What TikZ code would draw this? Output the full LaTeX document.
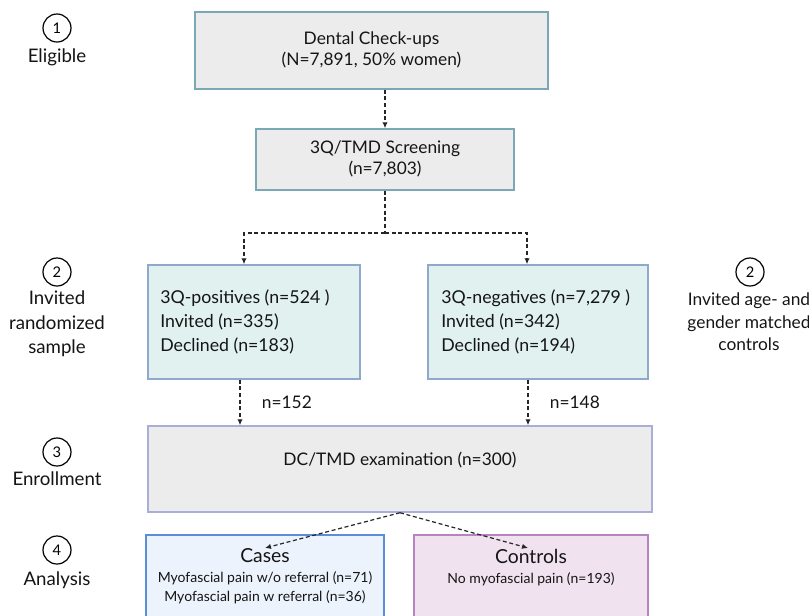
\documentclass[tikz,border=0pt]{standalone}
\usepackage{fontspec}
\setmainfont{Lato}
\usetikzlibrary{arrows.meta}
\definecolor{grayfill}{HTML}{ECECEC}
\definecolor{tealedge}{HTML}{7BA8B6}
\definecolor{cyanfill}{HTML}{E0F1EF}
\definecolor{cyanedge}{HTML}{8FA8CE}
\definecolor{dcedge}{HTML}{A9AED8}
\definecolor{casefill}{HTML}{EDF3FC}
\definecolor{caseedge}{HTML}{5B8ED8}
\definecolor{ctrlfill}{HTML}{F1E2F0}
\definecolor{ctrledge}{HTML}{B784C0}
\definecolor{txt}{HTML}{151515}
\tikzset{
  boxbase/.style={rectangle, line width=1.1pt, inner sep=0pt},
  graybox/.style={boxbase, draw=tealedge, fill=grayfill},
  cyanbox/.style={boxbase, draw=cyanedge, fill=cyanfill},
  dcbox/.style={boxbase, draw=dcedge, fill=grayfill},
  casebox/.style={boxbase, draw=caseedge, fill=casefill},
  ctrlbox/.style={boxbase, draw=ctrledge, fill=ctrlfill},
  maintext/.style={font=\fontsize{13}{16}\selectfont, text=txt, align=center, inner sep=0pt},
  listtext/.style={font=\fontsize{13.3}{18}\selectfont, text=txt, align=left, inner sep=0pt, anchor=west},
  headtext/.style={font=\fontsize{14.5}{16}\selectfont, text=txt, align=center, inner sep=0pt},
  smalltext/.style={font=\fontsize{10.5}{14.5}\selectfont, text=txt, align=center, inner sep=0pt},
  sidetext/.style={font=\fontsize{14}{18.5}\selectfont, text=txt, align=center, inner sep=0pt},
  sidetextr/.style={font=\fontsize{13}{17}\selectfont, text=txt, align=center, inner sep=0pt},
  stepnum/.style={circle, draw=black, line width=0.9pt, minimum size=21pt, inner sep=0pt, font=\fontsize{11}{12}\selectfont},
  dline/.style={line width=0.9pt, dash pattern=on 3pt off 2pt, draw=black!85},
  darr/.style={dline, -{Latex[length=4.5pt,width=4pt]}},
}
\begin{document}
\begin{tikzpicture}[x=0.75pt,y=-0.75pt]
\clip (0,0) rectangle (809,615);
\fill[white] (0,0) rectangle (809,615);

% boxes
\node[graybox, minimum width=264.75pt, minimum height=57.75pt] (b1) at (371.5,50.5) {};
\node[maintext] (b1t) at (371.5,50) {Dental Check-ups\\(N=7,891, 50\% women)};
\node[graybox, minimum width=193.5pt, minimum height=45.75pt] (b2) at (385,159.5) {};
\node[maintext] (b2t) at (385,159) {3Q/TMD Screening\\(n=7,803)};

\node[cyanbox, minimum width=159pt, minimum height=85.5pt] (lb) at (254,322) {};
\node[listtext] (lbt) at (160,322) {3Q-positives (n=524 )\\Invited (n=335)\\Declined (n=183)};
\node[cyanbox, minimum width=165pt, minimum height=85.5pt] (rb) at (538,322) {};
\node[listtext] (rbt) at (441,322) {3Q-negatives (n=7,279 )\\Invited (n=342)\\Declined (n=194)};

\node[dcbox, minimum width=378pt, minimum height=64.5pt] (dc) at (400,469) {};
\node[maintext] (dct) at (400,460) {DC/TMD examination (n=300)};

\node[casebox, minimum width=178.5pt, minimum height=75pt] (cs) at (265,585) {};
\node[headtext] (cst1) at (265,556) {Cases};
\node[smalltext] (cst2) at (265,588) {Myofascial pain w/o referral (n=71)\\Myofascial pain w referral (n=36)};
\node[ctrlbox, minimum width=175.5pt, minimum height=75pt] (ct) at (531,585) {};
\node[headtext] (ctt1) at (531,556) {Controls};
\node[smalltext] (ctt2) at (531,579) {No myofascial pain (n=193)};

% side labels
\node[stepnum] (s1) at (57,28) {1};
\node[sidetext] (s1t) at (57,57) {Eligible};
\node[stepnum] (s2) at (57,272) {2};
\node[sidetext] (s2t) at (57,324) {Invited\\randomized\\sample};
\node[stepnum] (s2r) at (750,272) {2};
\node[sidetextr] (s2rt) at (749,322) {Invited age- and\\gender matched\\controls};
\node[stepnum] (s3) at (57,452) {3};
\node[sidetext] (s3t) at (57,479) {Enrollment};
\node[stepnum] (s4) at (57,550) {4};
\node[sidetext] (s4t) at (57,580) {Analysis};

% connectors
\coordinate (j) at (385,233);
\draw[darr] (b1.south -| b2.north) -- (b2.north);
\draw[dline] (b2.south) -- (j);
\draw[darr] (j) -| ([xshift=-7.5pt]lb.north);
\draw[darr] (j) -| ([xshift=-8.25pt]rb.north);
\draw[darr] ([xshift=-10.5pt]lb.south) -- ([xshift=-10.5pt]lb.south |- dc.north) node[pos=0.5, maintext, anchor=west, xshift=16pt] (n1) {n=152};
\draw[darr] ([xshift=-7.5pt]rb.south) -- ([xshift=-7.5pt]rb.south |- dc.north) node[pos=0.5, maintext, anchor=west, xshift=16pt] (n2) {n=148};
\draw[darr] (dc.south) -- (265,548);
\draw[darr] (dc.south) -- (528,548);
\end{tikzpicture}
\end{document}
